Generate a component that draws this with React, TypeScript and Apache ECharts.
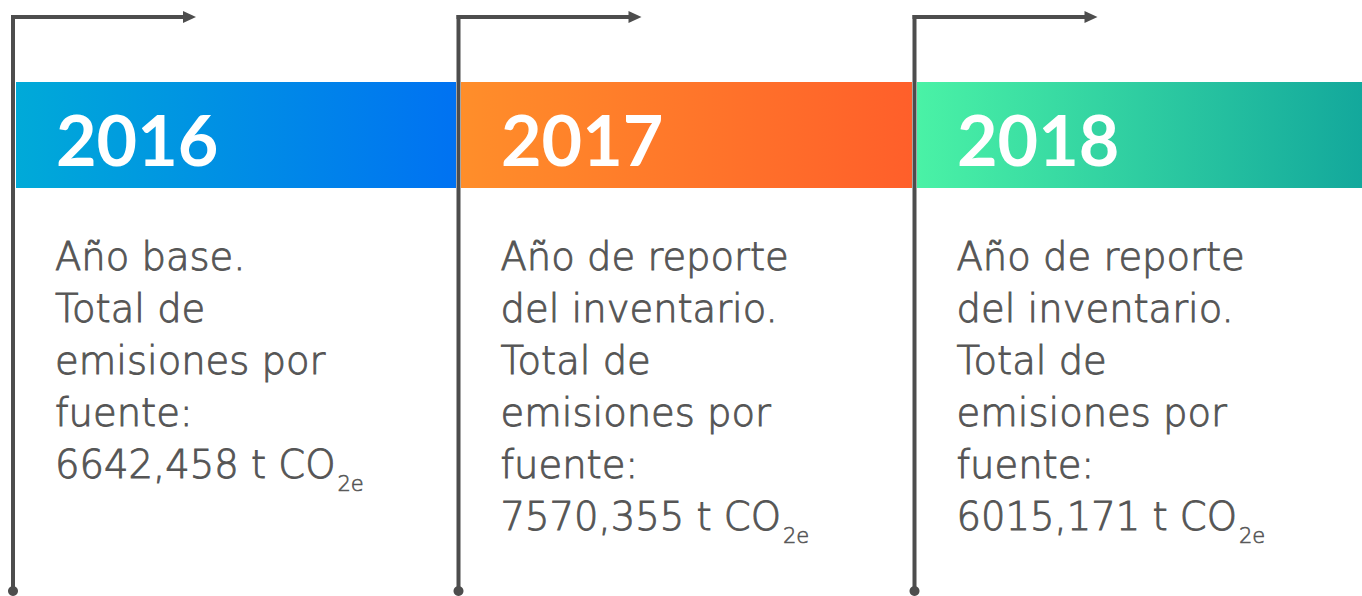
import React, { useEffect, useRef } from "react";
import * as echarts from "echarts";

const years = ["2016", "2017", "2018"];
const descriptions = [
  ["Año base.", "Total de", "emisiones por", "fuente:"],
  ["Año de reporte", "del inventario.", "Total de", "emisiones por", "fuente:"],
  ["Año de reporte", "del inventario.", "Total de", "emisiones por", "fuente:"],
];
const totals = ["6642,458", "7570,355", "6015,171"];
const unit = "t CO";
const unitSub = "2e";
const gradients = [
  ["#00AAD8", "#0072F2"],
  ["#FF8E2A", "#FF5F2A"],
  ["#4AF2A6", "#13A89C"],
];

const W = 1362;
const H = 596;
const LINE_X = [13, 458.5, 914.5];
const BAND_L = [16, 461, 917];
const BAND_R = [456, 912, 1362];
const BODY_FONT = "DejaVu Sans";
const BODY_SIZE = 38.5;
const BODY_WEIGHT = 200;

function measure(text: string, size: number, weight: number, family: string) {
  const c = document.createElement("canvas");
  const ctx = c.getContext("2d")!;
  ctx.font = `${weight} ${size}px "${family}"`;
  return ctx.measureText(text).width;
}

export default function App() {
  const ref = useRef<HTMLDivElement>(null);
  useEffect(() => {
    document.body.style.margin = "0";
    const chart = echarts.init(ref.current!, null, { renderer: "svg" });
    const els: any[] = [];
    const lineColor = "#4D4D4D";
    years.forEach((y, i) => {
      const lx = LINE_X[i];
      els.push({
        type: "rect",
        shape: { x: BAND_L[i], y: 82, width: BAND_R[i] - BAND_L[i], height: 106 },
        style: {
          fill: new echarts.graphic.LinearGradient(0, 0, 1, 0, [
            { offset: 0, color: gradients[i][0] },
            { offset: 1, color: gradients[i][1] },
          ]),
        },
        z: 1,
      });
      els.push({
        type: "line",
        shape: { x1: lx, y1: 15, x2: lx, y2: 592 },
        style: { stroke: lineColor, lineWidth: 4 },
        z: 2,
      });
      els.push({
        type: "line",
        shape: { x1: lx - 2, y1: 17, x2: lx + 172, y2: 17 },
        style: { stroke: lineColor, lineWidth: 4 },
        z: 2,
      });
      els.push({
        type: "polygon",
        shape: { points: [[lx + 170, 11], [lx + 183, 17], [lx + 170, 23]] },
        style: { fill: lineColor },
        z: 2,
      });
      els.push({
        type: "circle",
        shape: { cx: lx, cy: 591, r: 5 },
        style: { fill: lineColor },
        z: 2,
      });
      els.push({
        type: "text",
        x: BAND_L[i] + 40,
        y: 139,
        style: {
          text: y,
          fill: "#FFFFFF",
          font: "bold 70px Lato",
          verticalAlign: "middle",
          align: "left",
        },
        z: 3,
      });
      const tx = lx + 42;
      const lines = descriptions[i];
      const textStyle = {
        fill: "#555555",
        stroke: "#555555",
        lineWidth: 0.9,
        fontFamily: BODY_FONT,
        fontSize: BODY_SIZE,
        fontWeight: BODY_WEIGHT,
        verticalAlign: "middle",
        align: "left",
      };
      lines.forEach((t, k) => {
        els.push({
          type: "text",
          x: tx,
          y: 256 + 52 * k,
          style: { ...textStyle, text: t },
          z: 3,
        });
      });
      const last = `${totals[i]} ${unit}`;
      const ly = 256 + 52 * lines.length;
      els.push({
        type: "text",
        x: tx,
        y: ly,
        style: { ...textStyle, text: last },
        z: 3,
      });
      const wLast = measure(last, BODY_SIZE, BODY_WEIGHT, BODY_FONT);
      els.push({
        type: "text",
        x: tx + wLast + 2,
        y: ly + 20,
        style: { ...textStyle, text: unitSub, fontSize: 21, lineWidth: 0.6 },
        z: 3,
      });
    });
    chart.setOption({ animation: false, graphic: { elements: els } });
    return () => chart.dispose();
  }, []);
  return <div ref={ref} style={{ width: W, height: H }} />;
}
